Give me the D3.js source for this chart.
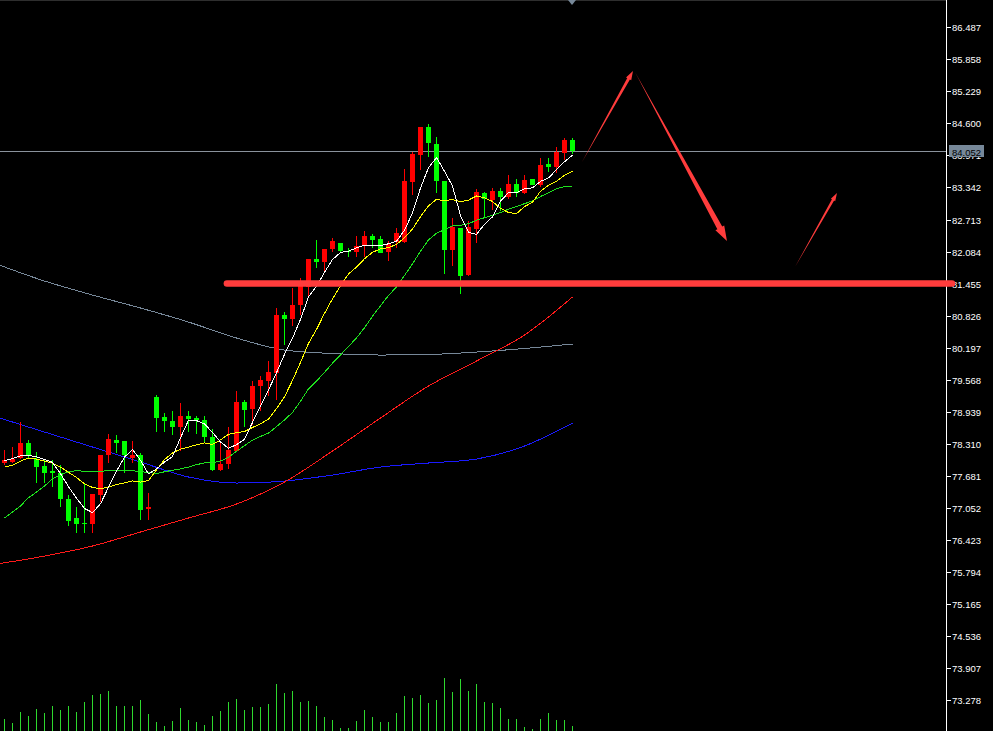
<!DOCTYPE html>
<html><head><meta charset="utf-8">
<script src="https://cdn.jsdelivr.net/npm/d3@7/dist/d3.min.js"></script>
<style>html,body{margin:0;padding:0;background:#000;overflow:hidden}svg{display:block}</style>
</head><body><div id="chart"></div>
<script>
// ---- data ----
const openP  = [77.93,77.96,78.04,78.33,78.02,77.87,77.77,77.73,77.22,76.85,76.75,76.73,77.30,78.09,78.38,78.36,78.04,78.09,77.02,79.23,78.83,78.75,78.63,78.85,78.82,78.78,78.44,77.79,77.91,78.17,79.13,78.99,79.44,79.54,79.69,80.84,80.76,81.03,81.39,81.94,81.87,82.13,82.26,82.10,82.07,82.19,82.39,82.33,82.07,82.28,82.28,83.44,83.97,84.52,84.20,83.47,82.11,82.55,81.62,82.53,83.24,83.10,83.28,83.15,83.41,83.23,83.50,83.39,83.80,83.74,84.02,84.27];
const highP  = [78.19,78.25,78.74,78.38,78.15,78.00,78.00,77.89,77.30,77.07,77.53,77.32,78.09,78.50,78.48,78.36,78.36,78.12,77.34,79.27,78.92,78.95,79.12,78.96,78.85,78.85,78.59,78.32,78.64,79.34,79.17,79.54,79.65,79.93,80.98,80.90,81.36,81.56,81.94,82.31,82.13,82.35,82.26,82.15,82.39,82.49,82.43,82.39,82.29,82.54,83.70,84.04,84.52,84.59,84.33,83.47,82.75,82.55,82.68,83.31,83.26,83.34,83.34,83.59,83.50,83.59,83.50,83.93,83.93,84.13,84.32,84.32];
const lowP   = [77.89,77.93,78.02,78.02,77.53,77.53,77.46,77.07,76.69,76.55,76.55,76.55,77.17,77.93,78.12,77.73,77.93,76.81,76.81,78.55,78.55,78.48,78.17,78.55,78.50,78.33,77.78,77.78,77.81,78.15,78.64,78.68,78.95,79.25,79.17,80.25,80.63,80.84,81.20,81.76,81.66,82.07,82.08,81.97,81.98,81.98,82.15,82.06,81.90,82.15,82.25,83.19,83.69,83.95,83.24,81.64,81.80,81.25,81.61,82.26,82.77,82.90,82.88,83.11,83.16,83.21,83.39,83.35,83.65,83.62,83.88,83.99];
const closeP = [78.00,78.02,78.33,78.06,77.86,77.74,77.73,77.22,76.79,76.73,76.73,77.32,78.09,78.40,78.33,78.09,78.09,77.01,77.07,78.82,78.76,78.63,78.85,78.80,78.78,78.44,77.79,77.91,78.19,79.13,78.97,79.44,79.56,79.72,80.84,80.76,81.03,81.41,81.94,81.87,82.13,82.29,82.10,82.07,82.19,82.39,82.31,82.06,82.23,82.45,83.46,84.00,84.52,84.21,83.46,82.11,82.56,81.61,82.56,83.26,83.11,83.28,83.15,83.41,83.24,83.49,83.39,83.78,83.75,84.04,84.27,84.052];
const volumes = [1200,800,1900,1500,2200,1800,2500,2100,2500,1900,2900,3600,3700,4000,2500,2500,2500,3100,1700,900,500,1000,2300,1100,900,600,1500,2000,2900,3200,2100,2400,2400,2700,4700,3800,4000,2900,3000,2500,1400,1100,300,300,1000,2100,1400,900,900,1800,3500,3300,3600,2800,3100,5300,3900,5200,4000,4700,2900,2800,2300,1200,1200,400,200,1200,1800,1100,1100,500];

const ma5  = [77.98,78.02,78.07,78.08,78.054,78.002,77.944,77.722,77.468,77.242,77.040,76.958,77.132,77.454,77.774,78.046,78.200,77.984,77.718,77.816,77.950,78.058,78.426,78.772,78.764,78.700,78.532,78.344,78.222,78.292,78.398,78.728,79.058,79.364,79.706,80.064,80.382,80.752,81.196,81.402,81.676,81.928,82.066,82.092,82.156,82.208,82.212,82.204,82.236,82.288,82.502,82.840,83.332,83.728,83.930,83.660,83.372,82.790,82.460,82.420,82.620,82.764,83.072,83.242,83.238,83.314,83.336,83.462,83.530,83.690,83.846,83.978];
const ma10 = [77.85,77.89,77.97,78.03,78.01,77.97,77.93,77.85,77.75,77.648,77.521,77.451,77.427,77.461,77.508,77.543,77.579,77.558,77.586,77.795,77.998,78.129,78.205,78.245,78.290,78.325,78.295,78.385,78.497,78.528,78.549,78.630,78.701,78.793,78.999,79.231,79.555,79.905,80.280,80.554,80.870,81.155,81.409,81.644,81.779,81.942,82.070,82.135,82.164,82.222,82.355,82.526,82.768,82.982,83.109,83.081,83.106,83.061,83.094,83.175,83.140,83.068,82.931,82.851,82.829,82.967,83.050,83.267,83.386,83.464,83.580,83.657];
const ma20 = [76.85,76.97,77.09,77.25,77.36,77.48,77.62,77.70,77.76,77.78,77.77,77.76,77.77,77.78,77.78,77.78,77.78,77.76,77.75,77.722,77.760,77.790,77.816,77.853,77.899,77.934,77.937,77.972,78.042,78.162,78.274,78.380,78.453,78.519,78.645,78.778,78.925,79.145,79.389,79.541,79.710,79.893,80.055,80.219,80.389,80.587,80.813,81.020,81.222,81.388,81.613,81.841,82.089,82.313,82.444,82.512,82.588,82.598,82.629,82.699,82.748,82.797,82.850,82.917,82.969,83.024,83.078,83.164,83.240,83.320,83.360,83.363];

// long moving averages, read at every sixth bar
const longIdx = [-1,5,11,17,23,29,35,41,47,53,59,65,71];
const maSlate = [81.839,81.505,81.230,80.975,80.700,80.386,80.150,80.082,80.052,80.062,80.111,80.180,80.268];
const maBlue  = [78.835,78.540,78.246,77.951,77.657,77.539,77.578,77.696,77.853,77.932,78.010,78.266,78.717];
const maRed   = [75.948,76.105,76.302,76.577,76.852,77.126,77.558,78.167,78.815,79.443,79.934,80.445,81.191];

const priceTicks = ["86.487","85.858","85.229","84.600","83.971","83.342","82.713","82.084","81.455","80.826","80.197","79.568","78.939","78.310","77.681","77.052","76.423","75.794","75.165","74.536","73.907","73.278"];
const lastPrice = "84.052";
const supportLevel = 81.455;
// hand-drawn arrows: [barFrom, priceFrom, barTo, priceTo, shaft, headLen, headW]
const arrowsIdx   = [[72.19,83.842,78.56,85.629,3,9,6],[78.81,85.609,90.31,82.291,5.5,15,10],[98.81,81.780,104.06,83.233,2.5,8,5]];

// ---- drawing ----
const W = 993, H = 731, axisX = 946.5;
const svg = d3.select("#chart").append("svg").attr("width", W).attr("height", H).style("background", "#000");
const x = d3.scaleLinear().domain([0, 71]).range([4.5, 572.5]);
const y = d3.scaleLinear().domain([72.670, 87.023]).range([H, 0]);
const yv = d3.scaleLinear().domain([0, 5300]).range([H, 678]);

// top border
svg.append("line").attr("x1", 0).attr("x2", axisX).attr("y1", 0.5).attr("y2", 0.5).attr("stroke", "#2e2e2e");

// volumes
svg.append("g").selectAll("line").data(volumes).join("line")
  .attr("x1", (d, i) => x(i)).attr("x2", (d, i) => x(i))
  .attr("y1", H).attr("y2", d => yv(d))
  .attr("stroke", "#2ed82e").attr("stroke-width", 1).attr("shape-rendering", "crispEdges");

// long MAs
const lineL = d3.line().x((d, i) => x(longIdx[i])).y(d => y(d)).curve(d3.curveMonotoneX);
[[maSlate, "#778899"], [maBlue, "#1a1aff"], [maRed, "#ff1a1a"]].forEach(([arr, c]) => {
  svg.append("path").attr("d", lineL(arr)).attr("fill", "none").attr("stroke", c).attr("stroke-width", 1)
    .attr("shape-rendering", "crispEdges");
});

// current price line
const yp = Math.round(y(+lastPrice)) + 0.5;
svg.append("line").attr("x1", 0).attr("x2", axisX).attr("y1", yp).attr("y2", yp).attr("stroke", "#8a929c").attr("stroke-width", 1);

// candles
const cg = svg.append("g").attr("shape-rendering", "crispEdges");
closeP.forEach((c, i) => {
  const o = openP[i], up = c >= o, col = up ? "#ff0000" : "#00ff00";
  const cx = x(i);
  cg.append("line").attr("x1", cx).attr("x2", cx).attr("y1", y(highP[i])).attr("y2", y(lowP[i])).attr("stroke", col);
  const top = y(Math.max(o, c)), bot = y(Math.min(o, c));
  cg.append("rect").attr("x", cx - 2.5).attr("width", 5).attr("y", top).attr("height", Math.max(1, bot - top)).attr("fill", col);
});

// short MAs
const lineS = d3.line().x((d, i) => x(i)).y(d => y(d));
[[ma20, "#1ee01e"], [ma10, "#ffff00"], [ma5, "#ffffff"]].forEach(([arr, c]) => {
  svg.append("path").attr("d", lineS(arr)).attr("fill", "none").attr("stroke", c).attr("stroke-width", 1)
    .attr("shape-rendering", "crispEdges");
});

// axis
svg.append("line").attr("x1", axisX).attr("x2", axisX).attr("y1", 0).attr("y2", H).attr("stroke", "#fff").attr("shape-rendering", "crispEdges");
const tg = svg.append("g");
priceTicks.forEach(t => {
  const ty = Math.round(y(+t)) + 0.5;
  tg.append("line").attr("x1", axisX).attr("x2", axisX + 4.5).attr("y1", ty).attr("y2", ty).attr("stroke", "#fff").attr("shape-rendering", "crispEdges");
  tg.append("text").attr("x", 952).attr("y", ty + 3.5).text(t)
    .attr("fill", "#fff").attr("font-family", "Liberation Sans, Arial, sans-serif").attr("font-size", "9.5px");
});

// last price label (covers the 83.971 tick label as in the reference)
svg.append("rect").attr("x", 949).attr("y", yp - 6.5).attr("width", 35).attr("height", 12).attr("fill", "#778899");
svg.append("text").attr("x", 952).attr("y", yp + 4).text(lastPrice).attr("fill", "#000")
  .attr("font-family", "Liberation Sans, Arial, sans-serif").attr("font-size", "9.5px");

// shift marker
svg.append("path").attr("d", `M${x(71) - 4.5},0L${x(71) + 3.5},0L${x(71) - 0.5},5Z`).attr("fill", "#778899");

// support line
svg.append("line").attr("x1", x(27.8)).attr("x2", 952).attr("y1", y(supportLevel)).attr("y2", y(supportLevel))
  .attr("stroke", "#ff3c3c").attr("stroke-width", 6.5).attr("stroke-linecap", "round");

// arrows
arrowsIdx.forEach(([i1, p1, i2, p2, sw, hl, hw]) => {
  const x1 = x(i1), y1 = y(p1), x2 = x(i2), y2 = y(p2);
  const L = Math.hypot(x2 - x1, y2 - y1), ux = (x2 - x1) / L, uy = (y2 - y1) / L, nx = -uy, ny = ux;
  const bx = x2 - ux * hl, by = y2 - uy * hl;
  const pts = [[x1, y1], [bx + nx * sw / 2, by + ny * sw / 2], [bx + nx * hw / 2, by + ny * hw / 2], [x2, y2],
               [bx - nx * hw / 2, by - ny * hw / 2], [bx - nx * sw / 2, by - ny * sw / 2]];
  svg.append("path").attr("d", d3.line()(pts) + "Z").attr("fill", "#ff3c3c");
});
</script></body></html>
